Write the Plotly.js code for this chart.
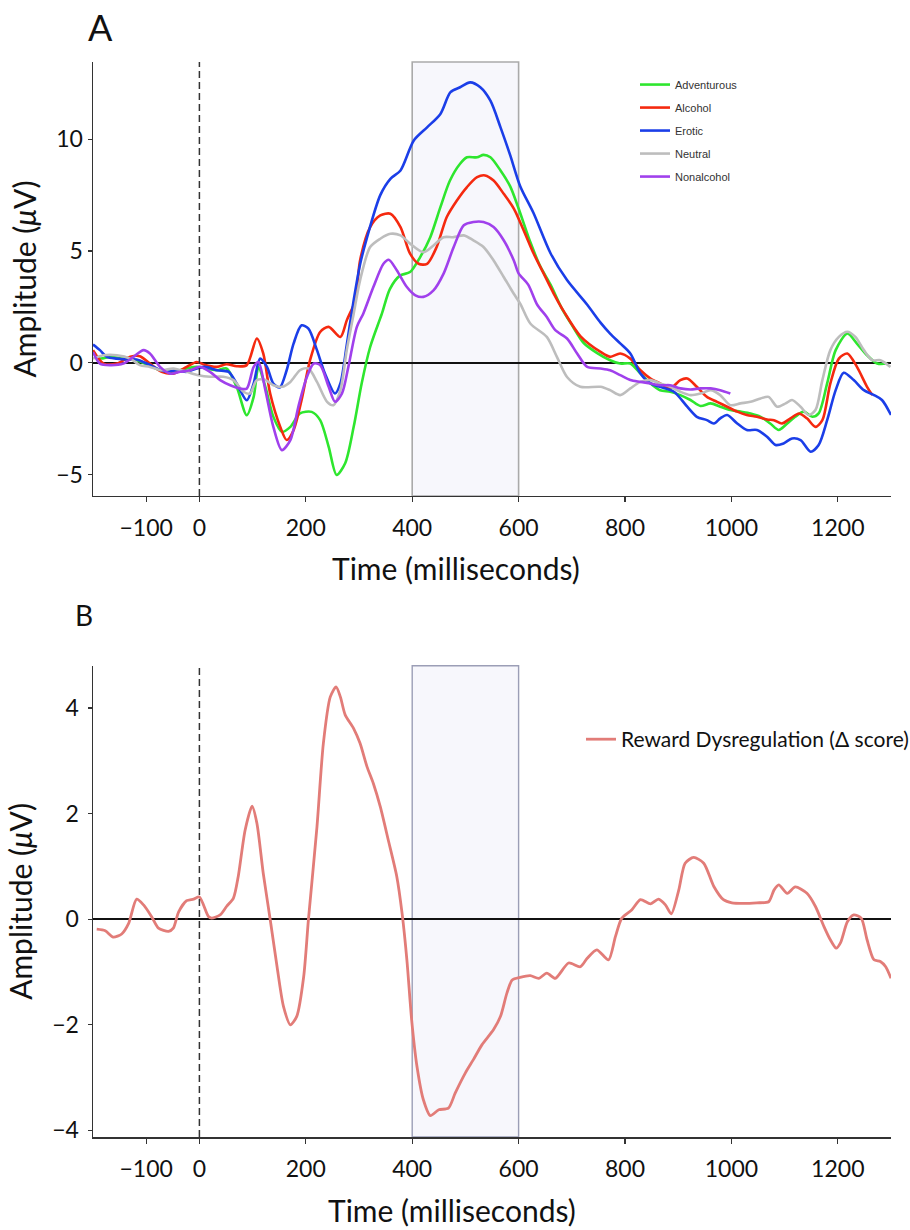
<!DOCTYPE html>
<html>
<head>
<meta charset="utf-8">
<script src="https://cdn.plot.ly/plotly-3.0.1.min.js"></script>
<style>html,body{margin:0;padding:0;background:#fff;}#chart{width:910px;height:1230px;}</style>
</head>
<body>
<div id="chart"></div>
<script>
// ---------- Panel A data (time in ms, amplitude in µV) ----------
const tAdventurous = [-200,-187,-168,-143,-118,-96,-74,-49,-24,-5,14,33,51,70,89,102,111,124,139,155,171,189,211,227,243,258,274,290,305,321,343,358,377,396,415,434,453,471,490,503,522,534,547,566,584,600,622,641,660,682,700,722,747,772,791,810,829,848,866,885,904,923,942,961,979,998,1017,1036,1055,1073,1089,1105,1120,1136,1152,1164,1180,1196,1218,1236,1255,1274,1293];
const vAdventurous = [0.5,0.2,0.27,0.19,0.12,-0.1,-0.33,-0.4,-0.25,-0.18,-0.25,-0.33,-0.25,-1.07,-2.34,-1.52,-0.2,-1.07,-2.41,-3.08,-2.86,-2.26,-2.19,-2.56,-3.75,-5.01,-4.49,-2.86,-0.92,0.71,2.2,3.3,3.9,4.06,4.73,5.62,6.96,8.15,8.9,9.19,9.19,9.3,9.19,8.6,7.9,6.9,5.4,4.3,3.5,2.4,1.7,0.9,0.45,0.12,-0.03,-0.03,-0.47,-0.92,-1.22,-1.29,-1.44,-1.66,-1.93,-1.81,-1.96,-2.11,-2.18,-2.26,-2.41,-2.71,-3.0,-2.71,-2.41,-2.18,-2.41,-2.26,-0.92,0.57,1.31,0.86,0.34,-0.03,-0.03];

const tAlcohol = [-200,-180,-155,-130,-112,-93,-71,-49,-24,-5,11,33,51,70,89,108,120,133,152,164,177,192,208,227,243,265,277,293,302,321,340,359,378,396,412,428,446,465,484,503,522,537,553,572,591,610,628,647,666,685,716,754,772,791,810,829,848,866,885,904,917,935,954,973,992,1011,1029,1048,1067,1080,1095,1111,1127,1142,1158,1171,1186,1202,1218,1236,1255,1265];
const vAlcohol = [0.57,-0.03,-0.03,0.27,0.3,-0.03,-0.4,-0.48,-0.18,0.04,-0.1,-0.18,-0.06,-0.15,-0.1,1.09,0.42,-1.37,-2.86,-3.45,-3.01,-1.67,0.12,1.38,1.61,1.16,1.9,2.8,4.58,6.07,6.59,6.67,6.07,4.88,4.43,4.43,5.18,6.52,7.26,7.86,8.3,8.38,8.15,7.56,6.9,5.9,4.9,4.0,3.1,2.3,1.2,0.49,0.27,0.42,0.19,-0.33,-0.7,-0.92,-1.14,-0.77,-0.7,-1.07,-1.52,-1.74,-1.96,-2.18,-2.33,-2.41,-2.53,-2.56,-2.71,-2.48,-2.26,-2.48,-2.86,-2.56,-0.92,0.19,0.42,-0.18,-1.07,-1.44];

const tErotic = [-200,-187,-174,-155,-137,-118,-99,-80,-61,-43,-24,-5,11,33,55,70,89,102,114,127,139,151,164,177,192,205,221,236,255,265,277,290,302,315,340,359,378,403,428,453,472,490,509,528,547,566,584,603,628,660,691,729,754,772,791,810,829,848,866,892,917,935,954,967,979,992,1011,1029,1048,1067,1083,1098,1114,1130,1149,1164,1180,1196,1211,1230,1249,1268,1283,1300];
const vErotic = [0.82,0.57,0.27,0.19,0.15,0.15,-0.03,-0.25,-0.4,-0.33,-0.4,-0.25,-0.18,-0.33,-0.4,-0.92,-1.67,-0.92,0.19,-0.18,-0.92,-1.1,-0.33,0.86,1.68,1.53,0.57,-0.48,-1.37,-0.92,0.8,2.8,4.4,5.6,7.5,8.23,8.6,9.94,10.53,11.13,12.1,12.32,12.54,12.32,11.72,10.53,9.3,7.9,6.7,4.9,3.7,2.6,1.8,1.31,0.87,0.42,-0.47,-0.92,-1.07,-1.29,-1.96,-2.41,-2.56,-2.71,-2.48,-2.33,-2.71,-3.0,-3.0,-3.3,-3.67,-3.6,-3.38,-3.45,-3.97,-3.67,-2.56,-1.22,-0.44,-0.77,-1.22,-1.44,-1.66,-2.33];

const tNeutral = [-200,-180,-155,-130,-112,-93,-71,-49,-24,-2,20,45,64,83,95,108,124,139,155,171,189,205,221,240,252,265,277,290,302,321,340,359,378,396,421,440,459,478,497,515,534,553,572,591,603,622,653,672,691,716,754,772,791,810,829,848,866,885,904,923,942,961,979,998,1017,1036,1055,1070,1086,1102,1114,1130,1145,1158,1171,1186,1202,1218,1233,1249,1265,1280,1299];
const vNeutral = [0.19,0.34,0.34,0.19,-0.1,-0.18,-0.33,-0.25,-0.4,-0.55,-0.62,-0.62,-0.77,-1.29,-1.37,-0.77,-0.77,-1.0,-1.07,-0.85,-0.33,-0.25,-0.85,-1.74,-1.89,-1.22,0.57,2.2,3.69,5.18,5.55,5.77,5.7,5.33,4.95,5.25,5.62,5.62,5.7,5.48,5.18,4.58,3.84,3.09,2.65,1.76,1.16,0.27,-0.63,-1.07,-1.07,-1.22,-1.44,-1.14,-0.85,-0.77,-0.92,-1.07,-1.29,-1.44,-1.37,-1.22,-1.44,-1.89,-1.81,-1.74,-1.59,-1.52,-1.96,-1.81,-1.66,-1.96,-2.33,-2.11,-0.77,0.57,1.16,1.39,1.16,0.57,0.12,0.12,-0.18];

const tNonalcohol = [-200,-187,-168,-143,-124,-105,-93,-74,-55,-36,-18,1,20,39,58,77,89,102,111,124,139,155,171,186,202,215,227,243,255,268,280,296,308,327,346,356,371,390,406,421,440,459,478,497,515,534,553,572,591,600,618,635,653,669,691,710,729,754,772,791,810,829,848,866,885,904,923,942,961,979,998];
const vNonalcohol = [0.49,-0.03,-0.1,-0.03,0.27,0.57,0.42,-0.18,-0.48,-0.4,-0.33,-0.18,-0.4,-0.77,-1.0,-1.15,-1.15,-0.18,0.04,-1.22,-2.86,-3.9,-3.45,-1.96,-0.63,-0.03,-0.1,-1.07,-1.74,-1.37,-0.18,1.61,2.2,3.39,4.43,4.61,4.14,3.39,3.02,2.95,3.24,3.99,5.18,6.15,6.3,6.3,6.07,5.48,4.58,4.0,3.5,2.6,2.05,1.46,1.09,0.42,-0.18,-0.25,-0.33,-0.55,-0.77,-0.85,-0.92,-1.0,-1.0,-1.14,-1.19,-1.14,-1.14,-1.22,-1.37];

// ---------- Panel B data ----------
const tReward = [-193,-177,-162,-146,-133,-118,-105,-90,-77,-58,-49,-39,-24,-11,0,17,23,39,51,64,73,86,99,108,120,133,146,158,171,183,196,205,221,233,246,257,265,274,290,302,315,327,340,355,371,381,390,399,409,421,434,450,468,481,500,515,531,553,566,578,588,603,622,638,653,669,694,716,729,747,769,782,794,813,829,848,863,876,887,901,913,929,948,967,985,1001,1023,1048,1070,1080,1089,1105,1120,1142,1158,1174,1186,1197,1205,1218,1230,1244,1255,1268,1280,1290,1300];
const vReward = [-0.19,-0.22,-0.34,-0.28,-0.08,0.38,0.27,0.05,-0.17,-0.23,-0.17,0.14,0.35,0.38,0.42,0.05,0.02,0.08,0.24,0.4,0.81,1.69,2.14,1.82,0.87,0,-0.9,-1.65,-2.0,-1.84,-1.09,0,1.75,3.33,4.21,4.4,4.21,3.87,3.61,3.33,2.89,2.57,2.13,1.5,0.81,0.11,-0.77,-1.91,-2.79,-3.42,-3.72,-3.61,-3.58,-3.29,-2.91,-2.66,-2.38,-2.09,-1.84,-1.4,-1.15,-1.1,-1.07,-1.12,-1.02,-1.12,-0.83,-0.9,-0.74,-0.58,-0.77,-0.33,0.02,0.18,0.37,0.29,0.38,0.27,0.1,0.55,1.06,1.17,1.06,0.62,0.37,0.31,0.3,0.31,0.33,0.55,0.65,0.49,0.61,0.49,0.24,-0.14,-0.39,-0.55,-0.45,-0.05,0.08,0.02,-0.39,-0.77,-0.8,-0.9,-1.12];

// ---------- labels ----------
const seriesNames = ['Adventurous','Alcohol','Erotic','Neutral','Nonalcohol'];
const seriesColors = ['#2ee62e','#f5290f','#1b3ee8','#bdbdbd','#a040ec'];
const xTickVals = [-100,0,200,400,600,800,1000,1200];
const yTickValsA = [-5,0,5,10];
const yTickValsB = [-4,-2,0,2,4];
const windowStart = 400, windowEnd = 600;
const rewardName = 'Reward Dysregulation (Δ score)';

const tA = [tAdventurous,tAlcohol,tErotic,tNeutral,tNonalcohol];
const vA = [vAdventurous,vAlcohol,vErotic,vNeutral,vNonalcohol];

const traces = seriesNames.map((n,i)=>({
  x: tA[i], y: vA[i], name: n, type:'scatter', mode:'lines',
  line:{color:seriesColors[i], width:2.6, shape:'spline', smoothing:0.8},
  xaxis:'x', yaxis:'y', legend:'legend', legendgroup:'g'+i
}));
traces.push({
  x: tReward, y: vReward, name: rewardName, type:'scatter', mode:'lines',
  line:{color:'#e27c78', width:2.8, shape:'spline', smoothing:0.7},
  xaxis:'x2', yaxis:'y2', legend:'legend2'
});

const tickFont = {family:'Lato, sans-serif', size:23, color:'#111'};
const titleFont = {family:'Lato, sans-serif', size:30, color:'#111'};
const xCommon = {
  range:[-200,1300], tickmode:'array', tickvals:xTickVals, showgrid:false, zeroline:false,
  showline:true, linecolor:'#333', linewidth:1.5, ticks:'outside', ticklen:5, tickcolor:'#333', tickwidth:1.2,
  tickfont:tickFont, ticklabelstandoff:6
};
const yCommon = {
  showgrid:false, zeroline:true, zerolinecolor:'#111', zerolinewidth:1.4,
  showline:true, linecolor:'#333', linewidth:1.5, ticks:'outside', ticklen:4, tickcolor:'#333', tickwidth:1.2,
  tickfont:tickFont, tickmode:'array'
};

const layout = {
  width:910, height:1230,
  margin:{l:93, r:19, t:62, b:93, autoexpand:false},
  paper_bgcolor:'#fff', plot_bgcolor:'rgba(0,0,0,0)',
  showlegend:true,
  xaxis: Object.assign({}, xCommon, {domain:[0,1], anchor:'y'}),
  yaxis: Object.assign({}, yCommon, {domain:[0.5963,1], anchor:'x', range:[-5.95,13.45], tickvals:yTickValsA,
    ticklabelstandoff:0, title:{text:'Amplitude (<i>μ</i>V)', font:titleFont, standoff:10}}),
  xaxis2: Object.assign({}, xCommon, {domain:[0,1], anchor:'y2'}),
  yaxis2: Object.assign({}, yCommon, {domain:[0,0.4384], anchor:'x2', range:[-4.125,4.8], tickvals:yTickValsB,
    ticklabelstandoff:4, title:{text:'Amplitude (<i>μ</i>V)', font:titleFont, standoff:10}}),
  legend:{x:0.6792, xanchor:'left', y:0.9925, yanchor:'top', bgcolor:'rgba(0,0,0,0)',
    font:{family:'Liberation Sans, Arial, sans-serif', size:11, color:'#333'}, tracegroupgap:4},
  legend2:{x:0.6115, xanchor:'left', y:0.3888, yanchor:'top', bgcolor:'rgba(0,0,0,0)',
    font:{family:'Lato, sans-serif', size:21, color:'#111'}},
  shapes:[
    {type:'rect', xref:'x', yref:'y domain', x0:windowStart, x1:windowEnd, y0:0, y1:1, layer:'below',
     fillcolor:'rgba(240,240,250,0.5)', line:{color:'#aaaaaa', width:1.6}},
    {type:'rect', xref:'x2', yref:'y2 domain', x0:windowStart, x1:windowEnd, y0:0, y1:1, layer:'below',
     fillcolor:'rgba(240,240,250,0.5)', line:{color:'#9b9eb6', width:1.4}},
    {type:'line', xref:'x', yref:'y domain', x0:0, x1:0, y0:0, y1:1, line:{color:'#333', width:1.5, dash:'7px,4px'}},
    {type:'line', xref:'x2', yref:'y2 domain', x0:0, x1:0, y0:0, y1:1, line:{color:'#333', width:1.5, dash:'7px,4px'}}
  ],
  annotations:[
    {text:'A', xref:'paper', yref:'paper', x:0.0088, y:1.0326, showarrow:false, xanchor:'center', yanchor:'middle',
     font:{family:'Lato, sans-serif', size:36, color:'#111'}},
    {text:'B', xref:'paper', yref:'paper', x:-0.0113, y:0.4856, showarrow:false, xanchor:'center', yanchor:'middle',
     font:{family:'Lato, sans-serif', size:28, color:'#111'}},
    {text:'Time (milliseconds)', xref:'paper', yref:'paper', x:0.4549, y:0.5293, showarrow:false, xanchor:'center', yanchor:'middle', font:titleFont},
    {text:'Time (milliseconds)', xref:'paper', yref:'paper', x:0.45, y:-0.0679, showarrow:false, xanchor:'center', yanchor:'middle', font:titleFont}
  ]
};

Plotly.newPlot('chart', traces, layout, {displayModeBar:false, staticPlot:true});
</script>
</body>
</html>
